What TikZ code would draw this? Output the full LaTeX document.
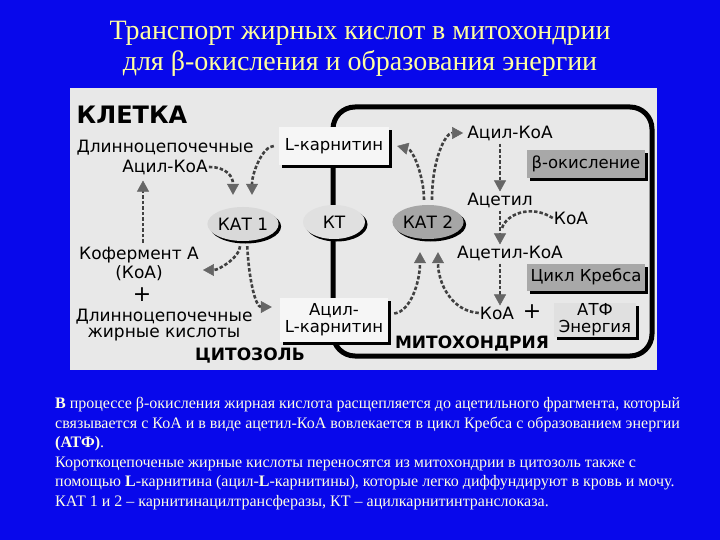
\documentclass[tikz,border=0pt]{standalone}
\usepackage{fontspec}
\setmainfont{Liberation Serif}
\newfontfamily\diagfont{DejaVu Sans}
\usepackage{xcolor}
\usepackage{tikz}
\usetikzlibrary{shapes.geometric, arrows.meta, shadows, calc}

\definecolor{slideblue}{RGB}{8,8,235}
\definecolor{titleyellow}{RGB}{255,255,160}
\definecolor{bodywhite}{RGB}{255,255,228}
\definecolor{panelgray}{RGB}{232,232,232}
\definecolor{boxwhite}{RGB}{246,246,246}
\definecolor{boxgray}{RGB}{168,168,168}
\definecolor{boxlight}{RGB}{224,224,224}

\tikzset{
  flow/.style={line width=2.6pt, dash pattern=on 3.5pt off 2pt, draw=black!75,
    -{Triangle[width=12pt,length=11pt,line width=0.5pt,color=black!60]}},
  flowline/.style={line width=2.6pt, dash pattern=on 3.5pt off 2pt, draw=black!75},
  molecule/.style={font=\diagfont\fontsize{17}{19}\selectfont, inner sep=1pt, align=center},
  enzyme/.style={ellipse, fill=#1, minimum width=62pt, minimum height=34pt, inner sep=0pt,
    font=\diagfont\fontsize{17}{19}\selectfont,
    drop shadow={shadow xshift=2.5pt, shadow yshift=-2.5pt, fill=black, opacity=1}},
  compbox/.style={rectangle, fill=#1, inner sep=0pt, align=center,
    font=\diagfont\fontsize{16.5}{17}\selectfont,
    drop shadow={shadow xshift=3pt, shadow yshift=-3pt, fill=black, opacity=1}},
  region/.style={font=\diagfont\bfseries\fontsize{#1}{#1}\selectfont, inner sep=0pt},
}

\begin{document}
\begin{tikzpicture}[x=1pt,y=-1pt]
  \useasboundingbox (0,0) rectangle (720,540);

  % Background
  \fill[slideblue] (0,0) rectangle (720,540);
  \fill[panelgray] (70,88) rectangle (657,370);

  % Title
  \node[text=titleyellow, font=\fontsize{28}{30}\selectfont] (title1) at (360,33) {Транспорт жирных кислот в митохондрии};
  \node[text=titleyellow, font=\fontsize{28}{30}\selectfont] (title2) at (360,63) {для β-окисления и образования энергии};

  % Mitochondrion membrane (drawn under the boxes)
  \draw[line width=5pt, rounded corners=22pt] (333,107) rectangle (652,356);

  % Cell / cytosol side
  \node[region=24] (cell) at (132,115) {КЛЕТКА};
  \node[molecule] (dl1) at (165,148) {Длинноцепочечные};
  \node[molecule] (acyl1) at (165,167) {Ацил-КоА};
  \node[molecule] (koferm) at (139,264) {Кофермент А\\(КоА)};
  \node[molecule, font=\diagfont\fontsize{22}{22}\selectfont] (plus1) at (142,295) {+};
  \node[molecule] (dl2) at (164,317) {Длинноцепочечные};
  \node[molecule] (fatty) at (164,335) {жирные кислоты};
  \node[region=17] (cytosol) at (250,356) {ЦИТОЗОЛЬ};

  % Carriers in the membrane
  \node[compbox=boxwhite, minimum width=110pt, minimum height=38pt] (lcarn) at (334,146) {L-карнитин};
  \node[compbox=boxwhite, minimum width=108pt, minimum height=44pt] (acylcarn) at (334,320) {Ацил-\\L-карнитин};
  \node[enzyme=black!15] (kat1) at (243,224) {КАТ 1};
  \node[enzyme=black!12] (kt) at (334,222) {КТ};
  \node[enzyme=black!35] (kat2) at (428,222) {КАТ 2};

  % Mitochondrion side
  \node[molecule] (acylcoa) at (510,133) {Ацил-КоА};
  \node[compbox=boxgray, minimum width=118pt, minimum height=28pt] (betaox) at (586,164) {β-окисление};
  \node[molecule] (acetyl) at (500,200) {Ацетил};
  \node[molecule] (koa1) at (571,218) {КоА};
  \node[molecule] (acetylcoa) at (510,253) {Ацетил-КоА};
  \node[compbox=boxgray, minimum width=118pt, minimum height=27pt] (krebs) at (586,277) {Цикл Кребса};
  \node[molecule] (koa2) at (497,313) {КоА};
  \node[molecule, font=\diagfont\fontsize{22}{22}\selectfont] (plus2) at (532,312) {+};
  \node[compbox=boxlight, minimum width=82pt, minimum height=34pt] (atp) at (595,320) {АТФ\\Энергия};
  \node[region=17] (mito) at (472,344) {МИТОХОНДРИЯ};

  % Transport arrows, cytosol
  \draw[flow] (acyl1.east) .. controls +(18,0) and +(0,-18) .. ([xshift=-10pt,yshift=12pt]kat1.north);
  \draw[flow, shorten <=5pt] (lcarn.west) .. controls +(-16,0) and +(0,-22) .. ([xshift=9pt,yshift=12pt]kat1.north);
  \draw[flow, shorten <=5pt] ([xshift=-3pt]kat1.south) .. controls +(0,16) and +(16,0) .. ([xshift=3pt,yshift=-6pt]koferm.east);
  \draw[flow, shorten <=5pt] ([xshift=4pt]kat1.south) .. controls +(2,40) and +(-16,0) .. ([xshift=-8pt,yshift=13pt]acylcarn.west);
  \draw[flow, shorten <=3pt, shorten >=5pt] ([xshift=4pt]koferm.north) -- ([xshift=4pt]koferm.north |- acyl1.south);

  % Transport arrows, mitochondrion
  \draw[flow, shorten <=5pt] ([xshift=-4pt]kat2.north) .. controls +(0,-28) and +(16,4) .. ([xshift=8pt]lcarn.east);
  \draw[flow, shorten <=5pt] ([xshift=4pt]kat2.north) .. controls +(0,-45) and +(-18,0) .. ([xshift=-3pt]acylcoa.west);
  \draw[flow, shorten <=2pt] (acetyl.north |- acylcoa.south) -- (acetyl.north);
  \coordinate (merge) at ($(acetyl.south)!0.55!(acetyl.south |- acetylcoa.north)$);
  \draw[flow, shorten <=2pt] (acetyl.south) -- (acetyl.south |- acetylcoa.north);
  \draw[flowline] (koa1.west) .. controls +(-22,-14) and +(4,-14) .. ([xshift=2pt]merge);
  \draw[flow, shorten <=2pt] (acetyl.south |- acetylcoa.south) -- (acetyl.south |- koa2.north);
  \draw[flow, shorten <=6pt] ([yshift=6pt]acylcarn.east) .. controls +(22,-2) and +(0,30) .. ([xshift=-8pt,yshift=-13pt]kat2.south);
  \draw[flow] (koa2.west) .. controls +(-28,-2) and +(0,30) .. ([xshift=10pt,yshift=-13pt]kat2.south);

  % Explanation
  \node[anchor=north west, align=left, inner sep=0pt, text=bodywhite,
    font=\fontsize{16}{19.6}\selectfont] (notes) at (55,397)
    {\textbf{В} процессе β-окисления жирная кислота расщепляется до ацетильного фрагмента, который\\
     связывается с КоА и в виде ацетил-КоА вовлекается в цикл Кребса с образованием энергии\\
     \textbf{(АТФ)}.\\
     Короткоцепоченые жирные кислоты переносятся из митохондрии в цитозоль также с\\
     помощью \textbf{L}-карнитина (ацил-\textbf{L}-карнитины), которые легко диффундируют в кровь и мочу.\\
     КАТ 1 и 2 – карнитинацилтрансферазы, КТ – ацилкарнитинтранслоказа.};
\end{tikzpicture}
\end{document}
